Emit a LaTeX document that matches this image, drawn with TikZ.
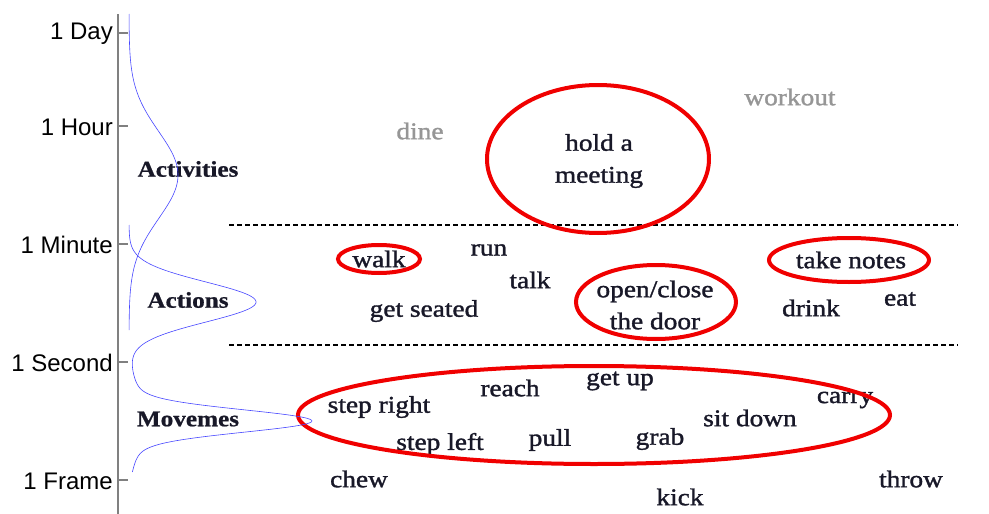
\documentclass[tikz,border=0pt]{standalone}
\usepackage{fontspec}
\setmainfont{Liberation Serif}[FakeStretch=1.15]
\setsansfont{Liberation Sans}
\newfontfamily\termfont{Liberation Serif}[FakeStretch=1.14, RawFeature={embolden=1.4}]
\newfontfamily\levelfont{Liberation Serif Bold}[FakeStretch=1.12, RawFeature={embolden=0.8}]
\definecolor{ink}{RGB}{24,24,40}
\definecolor{faded}{RGB}{150,150,150}
\definecolor{axisgray}{RGB}{128,128,128}
\definecolor{ringred}{RGB}{240,0,0}
\definecolor{curveblue}{RGB}{70,70,255}

\begin{document}
\begin{tikzpicture}[x=1pt, y=-1pt,
    term/.style={text=ink, font=\termfont\fontsize{24}{32}\selectfont, inner sep=0pt, align=center},
    vague/.style={term, text=faded},
    level/.style={text=ink, font=\levelfont\fontsize{22.5}{24}\selectfont, inner sep=0pt},
    scale label/.style={anchor=east, font=\sffamily\fontsize{24}{26}\selectfont, inner sep=0pt},
    ring/.style={draw=ringred, line width=4pt},
    divider/.style={dashed, dash pattern=on 5pt off 3pt, line width=1.6pt},
    density/.style={draw=curveblue, line width=0.6pt}]
\useasboundingbox (0,0) rectangle (989,514);

% time axis
\draw[axisgray, line width=1.5pt] (118,14) -- (118,514);
\foreach \y/\lab [count=\i] in {33/1 Day, 126/1 Hour, 244/1 Minute, 362/1 Second, 480/1 Frame} {
    \draw[axisgray, line width=1.5pt] (118,\y) -- (128,\y);
    \node[scale label] (tick\i) at (113,\y+1) {\lab};
}

% level names
\node[level] (activities) at (188,169) {Activities};
\node[level] (actions) at (188,300) {Actions};
\node[level] (movemes) at (188,419) {Movemes};

% separators
\draw[divider] (229,225) -- (958,225);
\draw[divider] (229,345) -- (958,345);

% activities
\node[vague] (dine) at (420,131) {dine};
\node[vague] (workout) at (790,97) {workout};
\node[term] (meeting) at (599,161) {hold a\\meeting};
\draw[ring] (598,159) ellipse [x radius=111, y radius=74];

% actions
\node[term] (walk) at (379,259) {walk};
\node[term] (run) at (489,250) {run};
\node[term] (talk) at (530,280) {talk};
\node[term] (seated) at (424,311) {get seated};
\node[term] (door) at (655,305) {open/close\\the door};
\node[term] (notes) at (851,260) {take notes};
\node[term] (drink) at (811,308) {drink};
\node[term] (eat) at (900,299) {eat};
\draw[ring] (379,259) ellipse [x radius=41, y radius=14];
\draw[ring] (656,302) ellipse [x radius=80, y radius=37];
\draw[ring] (849,260) ellipse [x radius=80, y radius=22];

% movemes
\node[term] (stepright) at (379,407) {step right};
\node[term] (reach) at (510,388) {reach};
\node[term] (getup) at (620,381) {get up};
\node[term] (carry) at (845,400) {carry};
\node[term] (sitdown) at (750,418) {sit down};
\node[term] (stepleft) at (440,444) {step left};
\node[term] (pull) at (550,440) {pull};
\node[term] (grab) at (660,439) {grab};
\draw[ring] (594,415) ellipse [x radius=296, y radius=49];
\node[term] (chew) at (359,479) {chew};
\node[term] (kick) at (680,497) {kick};
\node[term] (throw) at (911,479) {throw};

% duration densities
\draw[density] plot[domain=14:330, samples=160, variable=\t, smooth]
    ({129+49*exp(-((\t-175)/43.5)^2/2)}, \t);
\draw[density] plot[domain=225:472, samples=250, variable=\t, smooth]
    ({129+127*exp(-((\t-302)/20)^2/2)+165*exp(-((\t-421)/11)^2/2)+18*exp(-((\t-421)/28)^2/2)}, \t);
\end{tikzpicture}
\end{document}
